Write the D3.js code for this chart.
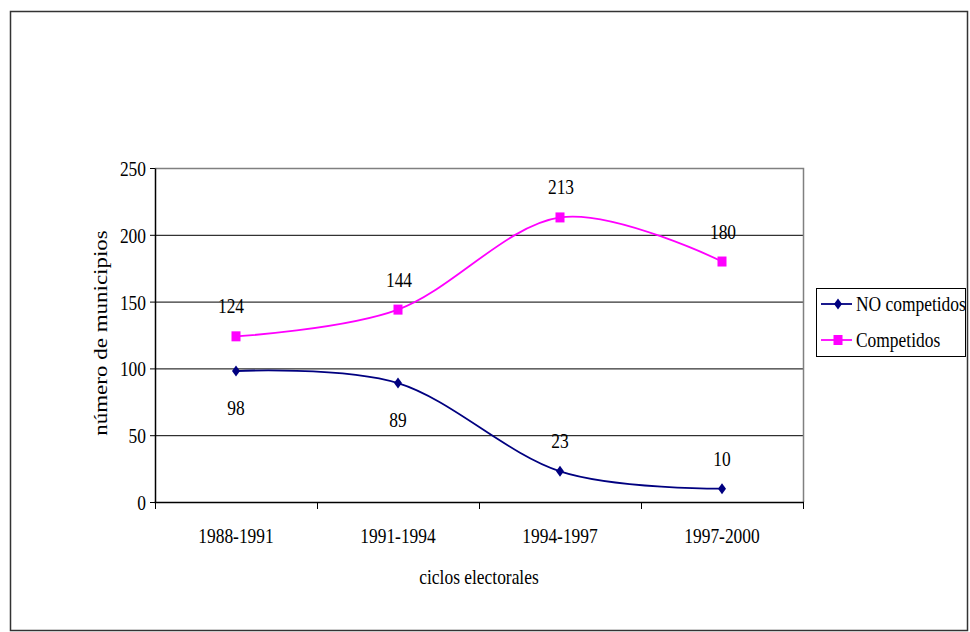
<!DOCTYPE html>
<html>
<head>
<meta charset="utf-8">
<script src="https://cdn.jsdelivr.net/npm/d3@7"></script>
<style>
  html, body { margin: 0; padding: 0; background: #fff; }
</style>
</head>
<body>
<svg id="chart" width="970" height="632" style="font-family: 'Liberation Serif', 'Times New Roman', serif;"></svg>
<script>
// ---- data ----
const categories = ["1988-1991", "1991-1994", "1994-1997", "1997-2000"];
const noCompetidos = [98, 89, 23, 10];
const competidos = [124, 144, 213, 180];
const noLabelSide = ["below", "below", "above", "above"];
const compLabelSide = ["above", "above", "above", "above"];
const yTicks = [0, 50, 100, 150, 200, 250];
const seriesNames = ["NO competidos", "Competidos"];
const yTitle = "número de municipios";
const xTitle = "ciclos electorales";

// ---- layout ----
const SQ = 0.83;      // horizontal squeeze of text
const FS = 21;
const FONT = "Liberation Serif";
const svg = d3.select("#chart");
const pLeft = 155, pRight = 803, pTop = 168, pBottom = 502;

const x = d3.scaleBand().domain(categories).range([pLeft, pRight]);
const y = d3.scaleLinear().domain([0, 250]).range([pBottom, pTop]);
const cx = c => x(c) + x.bandwidth() / 2;

const styleText = sel => sel.style("font-family", FONT).style("font-size", FS + "px").attr("fill", "#000");

// outer border
svg.append("rect").attr("x", 10.5).attr("y", 11.5).attr("width", 957).attr("height", 619)
  .attr("fill", "none").attr("stroke", "#333").attr("stroke-width", 1.5);

// gridlines
svg.append("g").selectAll("line").data(yTicks.filter(d => d > 0 && d < 250)).join("line")
  .attr("x1", pLeft).attr("x2", pRight).attr("y1", d => y(d) + 0.5).attr("y2", d => y(d) + 0.5)
  .attr("stroke", "#000").attr("stroke-width", 1);

// plot area border (top & right gray)
svg.append("path")
  .attr("d", `M${pLeft},${y(250) + 0.5}H${pRight + 0.5}V${pBottom}`)
  .attr("fill", "none").attr("stroke", "#808080").attr("stroke-width", 1.5);

// y axis
const yAxis = svg.append("g").attr("transform", `translate(${pLeft},0)`)
  .call(d3.axisLeft(y).tickValues(yTicks).tickSize(5).tickSizeOuter(0));
yAxis.attr("font-family", null).attr("font-size", null);
yAxis.select(".domain").attr("stroke", "#000").attr("stroke-width", 1.5);
yAxis.selectAll(".tick line").attr("stroke", "#000");
yAxis.selectAll(".tick text")
  .attr("x", null).attr("dy", null)
  .attr("transform", `translate(-9,7.5) scale(${SQ},1)`)
  .attr("text-anchor", "end")
  .call(styleText);

// x axis
svg.append("line").attr("x1", pLeft - 0.5).attr("x2", pRight + 1).attr("y1", pBottom + 0.5).attr("y2", pBottom + 0.5)
  .attr("stroke", "#000").attr("stroke-width", 1.5);
const bounds = categories.map(c => x(c)).concat([x.range()[1]]);
svg.append("g").selectAll("line").data(bounds).join("line")
  .attr("x1", d => d + 0.5).attr("x2", d => d + 0.5)
  .attr("y1", pBottom).attr("y2", pBottom + 7)
  .attr("stroke", "#000").attr("stroke-width", 1);
svg.append("g").selectAll("text").data(categories).join("text")
  .attr("transform", d => `translate(${cx(d)},543) scale(${SQ},1)`)
  .attr("text-anchor", "middle").call(styleText).text(d => d);

// axis titles
svg.append("text")
  .attr("transform", `translate(479,584) scale(${SQ},1)`)
  .attr("text-anchor", "middle").call(styleText).text(xTitle);
svg.append("text")
  .attr("transform", `translate(107,333) scale(${SQ},1) rotate(-90)`)
  .attr("text-anchor", "middle").call(styleText).style("font-size", "23px").text(yTitle);

// lines
const line = d3.line().x((d, i) => cx(categories[i])).y(d => y(d)).curve(d3.curveCatmullRom.alpha(0));
const colors = ["#000080", "#FF00FF"];
svg.append("path").datum(noCompetidos).attr("d", line)
  .attr("fill", "none").attr("stroke", colors[0]).attr("stroke-width", 1.8);
svg.append("path").datum(competidos).attr("d", line)
  .attr("fill", "none").attr("stroke", colors[1]).attr("stroke-width", 1.8);

// markers
const diamond = (px, py) => `M${px},${py - 5.5}L${px + 4},${py}L${px},${py + 5.5}L${px - 4},${py}Z`;
svg.append("g").selectAll("path").data(noCompetidos).join("path")
  .attr("d", (d, i) => diamond(cx(categories[i]), y(d))).attr("fill", colors[0]);
svg.append("g").selectAll("rect").data(competidos).join("rect")
  .attr("x", (d, i) => cx(categories[i]) - 4.5).attr("y", d => y(d) - 5)
  .attr("width", 9).attr("height", 10).attr("fill", colors[1]);

// data labels
const lblY = (v, side) => side === "above" ? y(v) - 23 : y(v) + 44;
svg.append("g").selectAll("text").data(noCompetidos).join("text")
  .attr("transform", (d, i) => `translate(${cx(categories[i])},${lblY(d, noLabelSide[i])}) scale(${SQ},1)`)
  .attr("text-anchor", "middle").call(styleText).text(d => d);
svg.append("g").selectAll("text").data(competidos).join("text")
  .attr("transform", (d, i) => `translate(${cx(categories[i]) + (i === 0 ? -5 : 1)},${lblY(d, compLabelSide[i])}) scale(${SQ},1)`)
  .attr("text-anchor", "middle").call(styleText).text(d => d);

// legend
const lg = svg.append("g");
lg.append("rect").attr("x", 816.5).attr("y", 288.5).attr("width", 149).attr("height", 68)
  .attr("fill", "#fff").attr("stroke", "#000").attr("stroke-width", 1);
const legY = [304, 340];
seriesNames.forEach((name, i) => {
  lg.append("line").attr("x1", 821).attr("x2", 852).attr("y1", legY[i]).attr("y2", legY[i])
    .attr("stroke", colors[i]).attr("stroke-width", 1.8);
  if (i === 0) lg.append("path").attr("d", diamond(838, legY[i])).attr("fill", colors[i]);
  else lg.append("rect").attr("x", 833.5).attr("y", legY[i] - 5).attr("width", 9).attr("height", 10).attr("fill", colors[i]);
  lg.append("text").attr("transform", `translate(856,${legY[i] + 7}) scale(${SQ},1)`)
    .attr("text-anchor", "start").call(styleText).text(name);
});
</script>
</body>
</html>
